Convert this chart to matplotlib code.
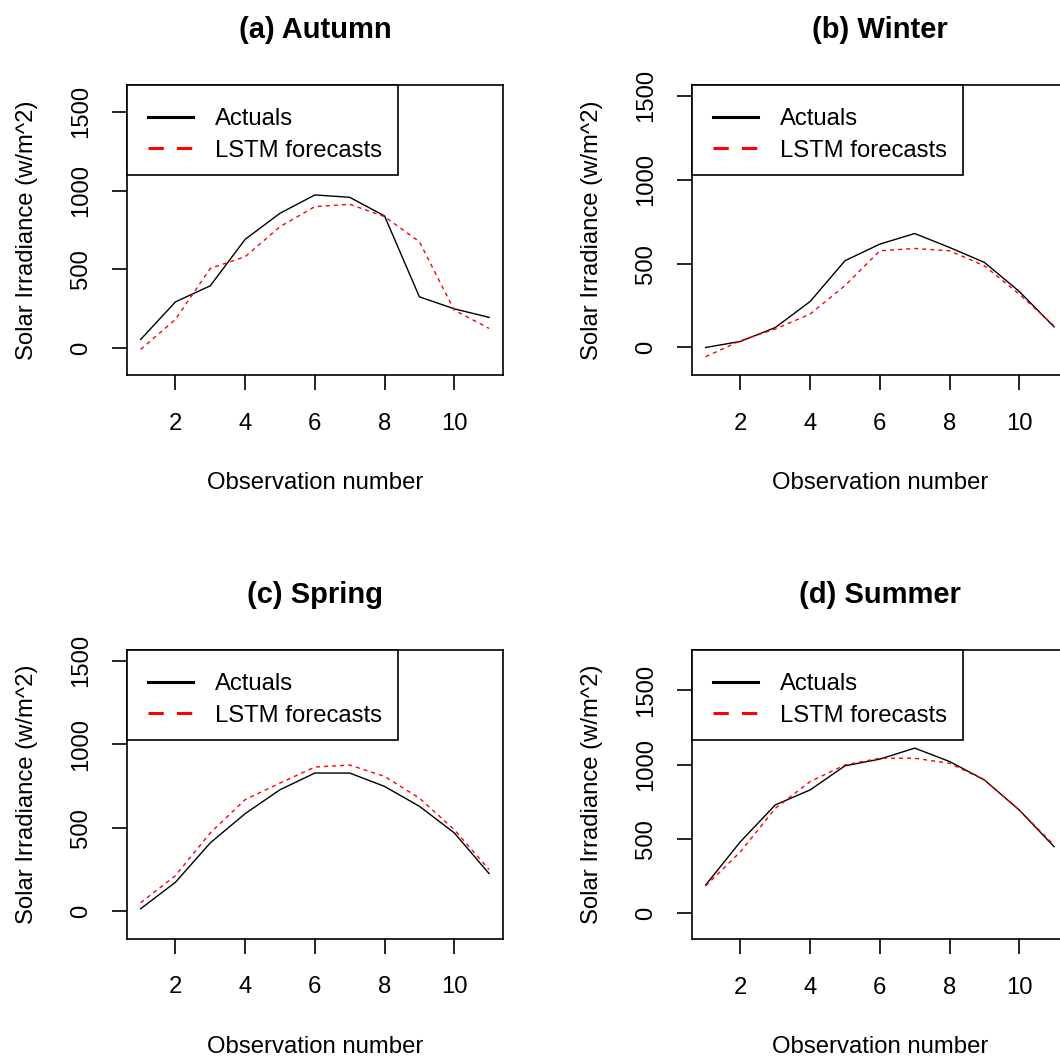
import matplotlib
matplotlib.use('Agg')
import matplotlib.pyplot as plt
from matplotlib.lines import Line2D
from matplotlib.patches import Rectangle

plt.rcParams['font.family'] = ['Liberation Sans', 'DejaVu Sans']
plt.rcParams['lines.scale_dashes'] = False

# ---------------- data ----------------
obs = list(range(1, 12))
titles = ["(a) Autumn", "(b) Winter", "(c) Spring", "(d) Summer"]

autumn_actual = [57, 295, 397, 691, 856, 972, 957, 839, 327, 251, 197]
autumn_lstm = [-6, 184, 507, 581, 771, 898, 913, 835, 676, 243, 127]
winter_actual = [0, 36, 119, 274, 517, 616, 679, 596, 507, 334, 123]
winter_lstm = [-55, 40, 110, 199, 369, 576, 590, 576, 487, 318, 129]
spring_actual = [14, 173, 409, 584, 727, 827, 827, 747, 628, 469, 225]
spring_lstm = [50, 213, 469, 668, 767, 863, 875, 807, 677, 488, 249]
summer_actual = [191, 483, 730, 831, 993, 1038, 1112, 1022, 898, 696, 449]
summer_lstm = [185, 415, 707, 887, 999, 1044, 1044, 1010, 898, 696, 460]

actuals = [autumn_actual, winter_actual, spring_actual, summer_actual]
forecasts = [autumn_lstm, winter_lstm, spring_lstm, summer_lstm]
ylims = [(-100, 1600), (-100, 1500), (-100, 1500), (-100, 1700)]

x_ticks = [2, 4, 6, 8, 10]
y_ticks = [0, 500, 1000, 1500]
legend_labels = ["Actuals", "LSTM forecasts"]
xlabel = "Observation number"
ylabel = "Solar Irradiance (w/m^2)"

# ---------------- layout (pixels) ----------------
W, H = 1060, 1059
fig = plt.figure(figsize=(W / 100, H / 100), dpi=100)

boxes = [  # left, top, width, height in px
    (126.7, 85, 376.3, 290),
    (691.7, 85, 376.3, 290),
    (126.7, 650, 376.3, 288.5),
    (691.7, 650, 376.3, 289),
]

FS = 17.2
for i, (l, t, w, h) in enumerate(boxes):
    ax = fig.add_axes([l / W, (H - t - h) / H, w / W, h / H])
    ax.plot(obs, actuals[i], color='black', lw=1.0, solid_joinstyle='miter')
    ax.plot(obs, forecasts[i], color='#FF0000', lw=1.0, dashes=(2.9, 2.9))
    lo, hi = ylims[i]
    r = hi - lo
    ax.set_ylim(lo - 0.04 * r, hi + 0.04 * r)
    ax.set_xlim(0.6, 11.4)
    ax.set_xticks(x_ticks)
    ax.set_yticks(y_ticks)
    ax.set_xticklabels([str(v) for v in x_ticks])
    ax.set_yticklabels([str(v) for v in y_ticks], rotation=90, va='center')
    ax.tick_params(direction='out', length=10.8, width=1.2, labelsize=FS,
                   color='black')
    ax.tick_params(axis='x', pad=16.5)
    ax.tick_params(axis='y', pad=14)
    for s in ax.spines.values():
        s.set_linewidth(1.2)
    ax.set_title(titles[i], fontsize=21, fontweight='bold', pad=34)
    ax.set_xlabel(xlabel, fontsize=FS, labelpad=27)
    ax.set_ylabel(ylabel, fontsize=FS, labelpad=23)

    # legend box (R style, top-left, touching the axes)
    bw, bh = 271 / w, 90 / h
    ax.add_patch(Rectangle((0, 1 - bh), bw, bh, transform=ax.transAxes,
                           facecolor='white', edgecolor='black', lw=1.2,
                           zorder=5, clip_on=False))
    x0, x1 = 21.3 / w, 66.3 / w
    xt = 88.3 / w
    ys = [1 - 31.7 / h, 1 - 63.3 / h]
    ax.add_line(Line2D([x0, x1], [ys[0], ys[0]], transform=ax.transAxes,
                       color='black', lw=2.2, zorder=6))
    ax.add_line(Line2D([x0, x1], [ys[1], ys[1]], transform=ax.transAxes,
                       color='#FF0000', lw=2.2, dashes=(11, 9.5), zorder=6))
    for lab, yy in zip(legend_labels, ys):
        ax.text(xt, yy, lab, transform=ax.transAxes, fontsize=FS,
                va='center_baseline', ha='left', zorder=7)

fig.savefig('out.png', dpi=100)
